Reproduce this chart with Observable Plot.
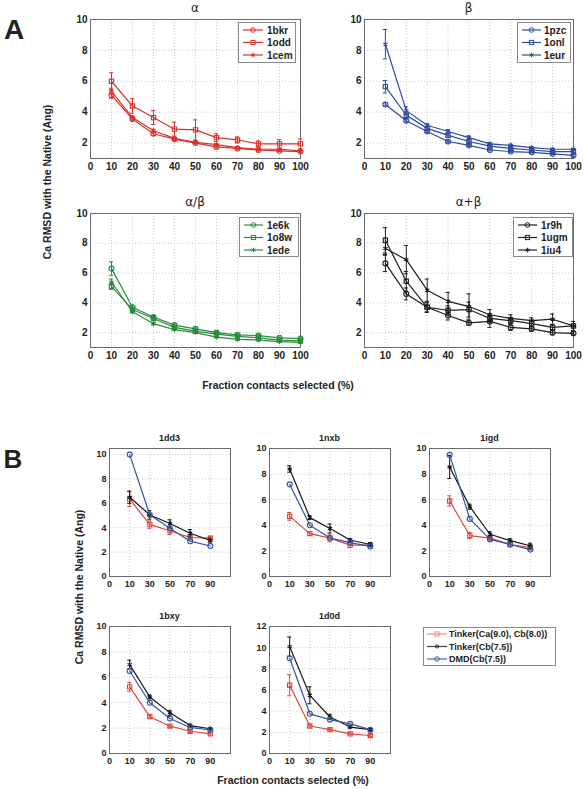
<!DOCTYPE html>
<html><head><meta charset="utf-8">
<script src="https://cdn.jsdelivr.net/npm/d3@7"></script>
<script src="https://cdn.jsdelivr.net/npm/@observablehq/plot@0.6"></script>
<style>
body{margin:0;background:#fff;}
#fig{position:relative;width:585px;height:789px;overflow:hidden;font-family:"Liberation Sans",Arial,sans-serif;}
</style></head><body><div id="fig"></div>
<script>
// ---------------- DATA ----------------
// Panel A
const fractionsA = [10, 20, 30, 40, 50, 60, 70, 80, 90, 100];
const ticksAx = [0, 10, 20, 30, 40, 50, 60, 70, 80, 90, 100];
const ticksAy = [2, 4, 6, 8, 10];
const titlesA = ["α", "β", "α/β", "α+β"];

const alphaNames = ["1bkr", "1odd", "1cem"];
const alpha_1bkr = [5.1, 3.55, 2.6, 2.25, 2.0, 1.75, 1.65, 1.55, 1.5, 1.45];
const alpha_1bkr_err = [0.2, 0.1, 0.1, 0.08, 0.06, 0.06, 0.05, 0.05, 0.05, 0.05];
const alpha_1odd = [6.0, 4.4, 3.65, 2.9, 2.85, 2.35, 2.2, 1.95, 1.95, 1.95];
const alpha_1odd_err = [0.55, 0.47, 0.45, 0.45, 0.65, 0.25, 0.2, 0.18, 0.28, 0.32];
const alpha_1cem = [5.35, 3.65, 2.8, 2.3, 2.05, 1.9, 1.7, 1.6, 1.6, 1.5];
const alpha_1cem_err = [0.2, 0.1, 0.1, 0.08, 0.06, 0.06, 0.05, 0.05, 0.05, 0.05];

const betaNames = ["1pzc", "1onl", "1eur"];
const beta_1pzc = [4.5, 3.45, 2.75, 2.1, 1.85, 1.55, 1.45, 1.4, 1.3, 1.2];
const beta_1pzc_err = [0.1, 0.1, 0.08, 0.08, 0.06, 0.05, 0.05, 0.05, 0.05, 0.05];
const beta_1onl = [5.65, 3.8, 2.95, 2.5, 2.1, 1.8, 1.65, 1.55, 1.45, 1.45];
const beta_1onl_err = [0.4, 0.15, 0.1, 0.1, 0.08, 0.06, 0.06, 0.05, 0.05, 0.05];
const beta_1eur = [8.4, 4.1, 3.15, 2.75, 2.35, 1.95, 1.85, 1.7, 1.6, 1.6];
const beta_1eur_err = [0.95, 0.25, 0.1, 0.12, 0.12, 0.08, 0.08, 0.06, 0.06, 0.06];

const alphaBetaNames = ["1e6k", "1o8w", "1ede"];
const alphaBeta_1e6k = [6.3, 3.7, 3.05, 2.5, 2.25, 2.0, 1.85, 1.8, 1.65, 1.6];
const alphaBeta_1e6k_err = [0.45, 0.1, 0.1, 0.08, 0.06, 0.06, 0.05, 0.05, 0.05, 0.05];
const alphaBeta_1o8w = [5.1, 3.55, 2.95, 2.35, 2.1, 1.9, 1.75, 1.65, 1.5, 1.45];
const alphaBeta_1o8w_err = [0.2, 0.08, 0.08, 0.06, 0.05, 0.05, 0.05, 0.05, 0.05, 0.05];
const alphaBeta_1ede = [5.4, 3.4, 2.6, 2.2, 2.0, 1.7, 1.55, 1.5, 1.4, 1.35];
const alphaBeta_1ede_err = [0.2, 0.08, 0.08, 0.06, 0.05, 0.05, 0.05, 0.05, 0.05, 0.05];

const alphaPlusBetaNames = ["1r9h", "1ugm", "1iu4"];
const alphaPlusBeta_1r9h = [6.65, 4.6, 3.7, 3.15, 2.65, 2.75, 2.35, 2.25, 2.0, 1.95];
const alphaPlusBeta_1r9h_err = [0.55, 0.4, 0.3, 0.3, 0.15, 0.4, 0.2, 0.15, 0.15, 0.1];
const alphaPlusBeta_1ugm = [8.2, 5.45, 3.7, 3.5, 3.55, 2.95, 2.8, 2.6, 2.35, 2.45];
const alphaPlusBeta_1ugm_err = [0.85, 0.65, 0.35, 0.3, 0.5, 0.3, 0.2, 0.2, 0.2, 0.15];
const alphaPlusBeta_1iu4 = [7.65, 6.9, 4.85, 4.1, 3.75, 3.2, 2.95, 2.8, 2.9, 2.45];
const alphaPlusBeta_1iu4_err = [0.4, 0.95, 0.75, 0.6, 0.85, 0.35, 0.25, 0.2, 0.35, 0.3];

// Panel B
const fractionsB = [10, 30, 50, 70, 90];
const tickLabelsBx = ["0", "10", "30", "50", "70", "90"];
const methodNames = ["Tinker(Ca(9.0), Cb(8.0))", "Tinker(Cb(7.5))", "DMD(Cb(7.5))"];
const proteinsB = ["1dd3", "1nxb", "1igd", "1bxy", "1d0d"];

const p1dd3_tinkerCaCb = [6.35, 4.25, 3.75, 3.2, 3.15];
const p1dd3_tinkerCaCb_err = [0.6, 0.3, 0.3, 0.15, 0.15];
const p1dd3_tinkerCb = [6.5, 5.05, 4.35, 3.55, 2.95];
const p1dd3_tinkerCb_err = [0.5, 0.35, 0.3, 0.3, 0.2];
const p1dd3_dmd = [10.0, 5.05, 3.95, 2.9, 2.5];

const p1nxb_tinkerCaCb = [4.7, 3.35, 3.0, 2.45, 2.45];
const p1nxb_tinkerCaCb_err = [0.3, 0.15, 0.3, 0.2, 0.1];
const p1nxb_tinkerCb = [8.4, 4.6, 3.75, 2.85, 2.5];
const p1nxb_tinkerCb_err = [0.25, 0.15, 0.35, 0.1, 0.15];
const p1nxb_dmd = [7.2, 4.0, 3.0, 2.65, 2.35];

const p1igd_tinkerCaCb = [5.9, 3.2, 3.0, 2.5, 2.25];
const p1igd_tinkerCaCb_err = [0.4, 0.25, 0.1, 0.1, 0.1];
const p1igd_tinkerCb = [8.55, 5.45, 3.3, 2.8, 2.4];
const p1igd_tinkerCb_err = [0.9, 0.2, 0.2, 0.15, 0.2];
const p1igd_dmd = [9.5, 4.5, 2.9, 2.5, 2.1];

const p1bxy_tinkerCaCb = [5.25, 2.9, 2.15, 1.75, 1.55];
const p1bxy_tinkerCaCb_err = [0.35, 0.1, 0.1, 0.1, 0.1];
const p1bxy_tinkerCb = [7.0, 4.45, 3.2, 2.2, 1.95];
const p1bxy_tinkerCb_err = [0.35, 0.15, 0.2, 0.1, 0.1];
const p1bxy_dmd = [6.5, 4.0, 2.75, 2.05, 1.85];

const p1d0d_tinkerCaCb = [6.45, 2.6, 2.25, 1.85, 1.7];
const p1d0d_tinkerCaCb_err = [1.0, 0.1, 0.1, 0.1, 0.1];
const p1d0d_tinkerCb = [10.1, 5.5, 3.45, 2.5, 2.25];
const p1d0d_tinkerCb_err = [0.9, 0.8, 0.25, 0.1, 0.1];
const p1d0d_dmd = [9.0, 3.75, 3.2, 2.8, 2.25];

const yLabel = "Ca RMSD with the Native (Ang)";
const xLabel = "Fraction contacts selected (%)";

// ---------------- DRAWING ----------------
const fig = document.getElementById("fig");
const FONT = "'Liberation Sans', Arial, sans-serif";

function addText(txt, cx, cy, o = {}) {
  const d = document.createElement("div");
  d.textContent = txt;
  d.style.cssText = `position:absolute;left:${cx}px;top:${cy}px;transform:translate(-50%,-50%)${o.rotate ? " rotate(-90deg)" : ""};font-size:${o.size || 10}px;font-weight:${o.weight || "bold"};font-family:${o.family || FONT};white-space:nowrap;line-height:1;color:${o.color || "#222"};`;
  fig.appendChild(d);
}

function panel(cfg) {
  const ml = 30, mr = 8, mt = 6, mb = 22;
  const fw = cfg.x1 - cfg.x0, fh = cfg.y1 - cfg.y0;
  const gridStyle = {stroke: "#bdbdbd", strokeOpacity: 1, strokeDasharray: "1,2", strokeWidth: 0.8};
  const marks = [
    Plot.gridX({ticks: cfg.xTicks, ...gridStyle}),
    Plot.gridY({ticks: cfg.yTicks, ...gridStyle}),
    Plot.frame({stroke: "#6a6a6a", strokeWidth: 1}),
    Plot.axisX({ticks: cfg.xTicks, tickFormat: cfg.xFmt, tickSize: 0, tickPadding: 4, label: null,
      fontSize: cfg.font, fontWeight: "bold", fill: "#222"}),
    Plot.axisY({ticks: cfg.yTicks, tickSize: 0, tickPadding: 3, label: null,
      fontSize: cfg.font, fontWeight: "bold", fill: "#222"})
  ];
  for (const s of cfg.series) {
    const d = s.values.map((v, i) => ({x: cfg.xs[i], y: v, e: s.err ? s.err[i] : 0}));
    if (s.err) {
      marks.push(Plot.ruleX(d, {x: "x", y1: r => r.y - r.e, y2: r => r.y + r.e, stroke: s.color, strokeWidth: 1}));
      marks.push(Plot.ruleY(d, {y: r => r.y - r.e, x1: r => r.x - cfg.cap, x2: r => r.x + cfg.cap, stroke: s.color, strokeWidth: 1}));
      marks.push(Plot.ruleY(d, {y: r => r.y + r.e, x1: r => r.x - cfg.cap, x2: r => r.x + cfg.cap, stroke: s.color, strokeWidth: 1}));
    }
    marks.push(Plot.line(d, {x: "x", y: "y", stroke: s.color, strokeWidth: 1.2}));
    marks.push(Plot.dot(d, {x: "x", y: "y", symbol: s.symbol, r: s.symbol === "square" ? 2.4 : s.symbol === "asterisk" ? 2.3 : 2.5,
      stroke: s.color, fill: "none", strokeWidth: 1.1}));
  }
  const svg = Plot.plot({
    width: fw + ml + mr, height: fh + mt + mb,
    marginLeft: ml, marginRight: mr, marginTop: mt, marginBottom: mb,
    x: {domain: cfg.xDomain}, y: {domain: cfg.yDomain},
    style: {fontFamily: FONT, background: "none", overflow: "visible", color: "#222"},
    marks
  });
  svg.style.position = "absolute";
  svg.style.left = (cfg.x0 - ml) + "px";
  svg.style.top = (cfg.y0 - mt) + "px";
  fig.appendChild(svg);
  addText(cfg.title, (cfg.x0 + cfg.x1) / 2, cfg.titleY, cfg.titleStyle);
}

function symbolSVG(sym, cx, cy, c) {
  if (sym === "circle") return `<circle cx="${cx}" cy="${cy}" r="2.3" fill="none" stroke="${c}"/>`;
  if (sym === "square") return `<rect x="${cx - 2.1}" y="${cy - 2.1}" width="4.2" height="4.2" fill="none" stroke="${c}"/>`;
  return `<path d="M${cx},${cy - 2.3}V${cy + 2.3}M${cx - 2},${cy - 1.15}L${cx + 2},${cy + 1.15}M${cx - 2},${cy + 1.15}L${cx + 2},${cy - 1.15}" stroke="${c}"/>`;
}

function legend(x, y, w, h, items, o) {
  const box = document.createElement("div");
  box.style.cssText = `position:absolute;left:${x}px;top:${y}px;width:${w}px;height:${h}px;border:1px solid #8a8a8a;background:#fff;box-sizing:border-box;`;
  let svg = `<svg width="${w}" height="${h}" style="position:absolute;left:-1px;top:-1px;overflow:visible">`;
  items.forEach((it, i) => {
    const cy = o.first + i * o.step;
    const c = o.fade ? o.fade[i] : it.color;
    svg += `<line x1="${o.l0}" x2="${o.l1}" y1="${cy}" y2="${cy}" stroke="${c}" stroke-width="1.2"/>`;
    svg += symbolSVG(it.symbol, (o.l0 + o.l1) / 2, cy, c);
    svg += `<text x="${o.tx}" y="${cy}" dy="0.35em" font-family="${FONT.replace(/'/g, "")}" font-weight="bold" font-size="${o.size}" fill="#222">${it.name}</text>`;
  });
  svg += `</svg>`;
  box.innerHTML = svg;
  fig.appendChild(box);
}

// ----- Panel A -----
const redA = "#d8322d", blueA = "#2f4b9b", greenA = "#2a8c3c", blackA = "#1e1e1e";
const symsA = ["circle", "square", "asterisk"];
const aCommon = {xs: fractionsA, xDomain: [0, 100], yDomain: [1, 10], xTicks: ticksAx, yTicks: ticksAy,
  cap: 1.0, font: 10, titleStyle: {size: 12, weight: "normal", family: "'DejaVu Sans', sans-serif"}};

const groupsA = [
  {title: titlesA[0], x0: 90, x1: 300, y0: 19, y1: 158, titleY: 8, color: redA, names: alphaNames,
   vals: [alpha_1bkr, alpha_1odd, alpha_1cem], errs: [alpha_1bkr_err, alpha_1odd_err, alpha_1cem_err],
   leg: [238, 22, 58, 41, {first: 8, step: 12.5, l0: 5, l1: 25, tx: 29, size: 10}]},
  {title: titlesA[1], x0: 364, x1: 573, y0: 19, y1: 158, titleY: 8, color: blueA, names: betaNames,
   vals: [beta_1pzc, beta_1onl, beta_1eur], errs: [beta_1pzc_err, beta_1onl_err, beta_1eur_err],
   leg: [517, 22, 54, 41, {first: 8, step: 12.5, l0: 5, l1: 24, tx: 27, size: 10}]},
  {title: titlesA[2], x0: 90, x1: 300, y0: 213, y1: 347, titleY: 202, color: greenA, names: alphaBetaNames,
   vals: [alphaBeta_1e6k, alphaBeta_1o8w, alphaBeta_1ede], errs: [alphaBeta_1e6k_err, alphaBeta_1o8w_err, alphaBeta_1ede_err],
   leg: [239, 217, 60, 40, {first: 8, step: 12.5, l0: 5, l1: 24, tx: 28, size: 10}]},
  {title: titlesA[3], x0: 364, x1: 573, y0: 213, y1: 347, titleY: 202, color: blackA, names: alphaPlusBetaNames,
   vals: [alphaPlusBeta_1r9h, alphaPlusBeta_1ugm, alphaPlusBeta_1iu4], errs: [alphaPlusBeta_1r9h_err, alphaPlusBeta_1ugm_err, alphaPlusBeta_1iu4_err],
   leg: [513, 217, 60, 40, {first: 8, step: 12.5, l0: 5, l1: 24, tx: 28, size: 10}]}
];
for (const g of groupsA) {
  panel({...aCommon, title: g.title, x0: g.x0, x1: g.x1, y0: g.y0, y1: g.y1, titleY: g.titleY,
    series: g.names.map((n, i) => ({name: n, values: g.vals[i], err: g.errs[i], color: g.color, symbol: symsA[i]}))});
  const [lx, ly, lw, lh, lo] = g.leg;
  legend(lx, ly, lw, lh, g.names.map((n, i) => ({name: n, color: g.color, symbol: symsA[i]})), lo);
}
addText("A", 14, 30, {size: 28});
addText(yLabel, 47, 182, {size: 10.5, rotate: true});
addText(xLabel, 278, 385, {size: 10.5});

// ----- Panel B -----
const methodColors = ["#e0463c", "#141414", "#3452a6"];
const methodSymbols = ["square", "asterisk", "circle"];
const xsB = fractionsB.map((f, i) => i + 1);
const bCommon = {xs: xsB, xDomain: [0, 6], xTicks: [0, 1, 2, 3, 4, 5], xFmt: i => tickLabelsBx[i],
  cap: 0.1, font: 9, titleStyle: {size: 9}};
const groupsB = [
  {x0: 109, x1: 230, y0: 448, y1: 576, titleY: 438, yDomain: [0, 10.5], yTicks: [0, 2, 4, 6, 8, 10],
   vals: [p1dd3_tinkerCaCb, p1dd3_tinkerCb, p1dd3_dmd], errs: [p1dd3_tinkerCaCb_err, p1dd3_tinkerCb_err, null]},
  {x0: 269, x1: 390, y0: 448, y1: 576, titleY: 438, yDomain: [0, 10], yTicks: [0, 2, 4, 6, 8, 10],
   vals: [p1nxb_tinkerCaCb, p1nxb_tinkerCb, p1nxb_dmd], errs: [p1nxb_tinkerCaCb_err, p1nxb_tinkerCb_err, null]},
  {x0: 429, x1: 550, y0: 448, y1: 576, titleY: 438, yDomain: [0, 10], yTicks: [0, 2, 4, 6, 8, 10],
   vals: [p1igd_tinkerCaCb, p1igd_tinkerCb, p1igd_dmd], errs: [p1igd_tinkerCaCb_err, p1igd_tinkerCb_err, null]},
  {x0: 109, x1: 230, y0: 626, y1: 753, titleY: 616, yDomain: [0, 10], yTicks: [0, 2, 4, 6, 8, 10],
   vals: [p1bxy_tinkerCaCb, p1bxy_tinkerCb, p1bxy_dmd], errs: [p1bxy_tinkerCaCb_err, p1bxy_tinkerCb_err, null]},
  {x0: 269, x1: 390, y0: 626, y1: 753, titleY: 616, yDomain: [0, 12], yTicks: [0, 2, 4, 6, 8, 10, 12],
   vals: [p1d0d_tinkerCaCb, p1d0d_tinkerCb, p1d0d_dmd], errs: [p1d0d_tinkerCaCb_err, p1d0d_tinkerCb_err, null]}
];
groupsB.forEach((g, k) => {
  panel({...bCommon, title: proteinsB[k], x0: g.x0, x1: g.x1, y0: g.y0, y1: g.y1, titleY: g.titleY,
    yDomain: g.yDomain, yTicks: g.yTicks,
    series: methodNames.map((n, i) => ({name: n, values: g.vals[i], err: g.errs[i], color: methodColors[i], symbol: methodSymbols[i]}))});
});
legend(423, 627, 133, 39, methodNames.map((n, i) => ({name: n, color: methodColors[i], symbol: methodSymbols[i]})),
  {first: 7, step: 12.5, l0: 4, l1: 24, tx: 26, size: 9, fade: ["#ee8c86", "#444", "#4a66b4"]});
addText("B", 13, 459, {size: 26});
addText(yLabel, 79, 587, {size: 10.5, rotate: true});
addText(xLabel, 293, 780, {size: 10.5});
</script></body></html>
